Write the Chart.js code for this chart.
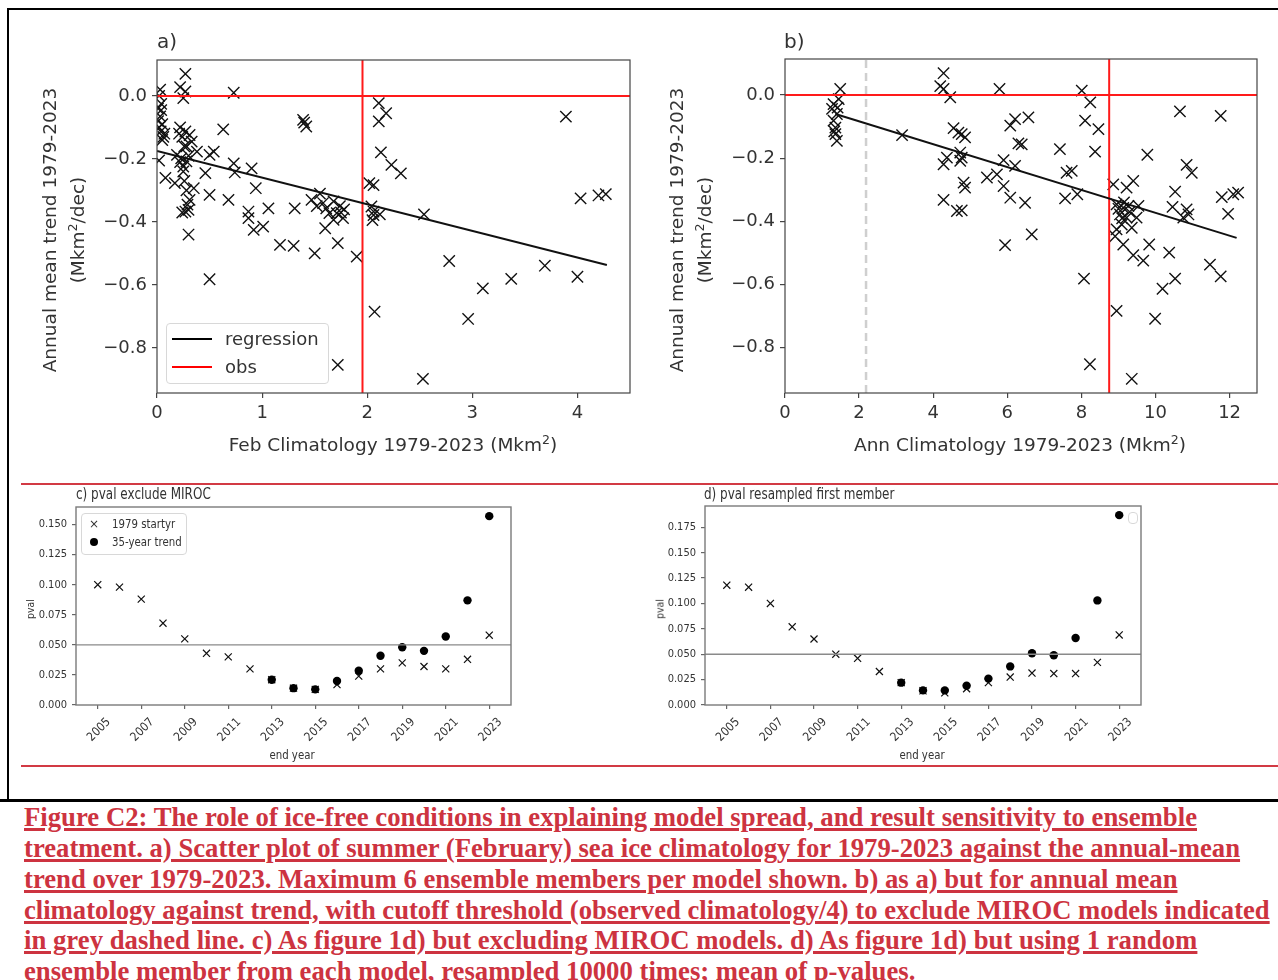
<!DOCTYPE html>
<html>
<head>
<meta charset="utf-8">
<script src="https://cdn.jsdelivr.net/npm/chart.js@4.4.1/dist/chart.umd.min.js"></script>
<style>
body { margin: 0; background: #fff; width: 1278px; height: 980px; position: relative; overflow: hidden; font-family: 'DejaVu Sans', sans-serif; }
.box { position: absolute; }
.t { position: absolute; white-space: nowrap; color: #333; line-height: 1; }
.rule { position: absolute; }
.leg { position: absolute; border: 1px solid #d8d8d8; border-radius: 4px; background: rgba(255,255,255,0.85); }
.cap { position: absolute; left: 24px; white-space: nowrap; font-family: 'Liberation Serif', 'Times New Roman', serif; font-weight: bold; font-size: 27px; line-height: 30px; color: #cd3340; text-decoration: underline; text-decoration-thickness: 2.5px; transform-origin: 0 50%; }
sup { font-size: 0.68em; line-height: 0; }
</style>
</head>
<body>

<!-- frame rules -->
<div class="rule" style="left:7px;top:8px;width:1271px;height:2px;background:#000"></div>
<div class="rule" style="left:7px;top:8px;width:2px;height:792px;background:#000"></div>
<div class="rule" style="left:0;top:799px;width:1278px;height:3px;background:#000"></div>
<div class="rule" style="left:21px;top:483px;width:1257px;height:2px;background:#d23a44"></div>
<div class="rule" style="left:21px;top:765px;width:1257px;height:2px;background:#d23a44"></div>

<canvas id="chartA" class="box" style="left:20px;top:20px" width="625" height="420"></canvas>
<canvas id="chartB" class="box" style="left:650px;top:20px" width="620" height="420"></canvas>
<canvas id="chartC" class="box" style="left:20px;top:488px" width="510" height="277"></canvas>
<canvas id="chartD" class="box" style="left:650px;top:488px" width="510" height="277"></canvas>

<!-- panel a texts -->
<div class="t" style="left:157px;top:41px;font-size:20px;transform:translate(0,-50%)">a)</div>
<div class="t" style="left:50px;top:230px;font-size:18.5px;transform:translate(-50%,-50%) rotate(-90deg)">Annual mean trend 1979-2023</div>
<div class="t" style="left:78px;top:230px;font-size:18.5px;transform:translate(-50%,-50%) rotate(-90deg)">(Mkm<sup>2</sup>/dec)</div>
<div class="t" style="left:393px;top:445px;font-size:18.5px;transform:translate(-50%,-50%)">Feb Climatology 1979-2023 (Mkm<sup>2</sup>)</div>
<div class="leg" style="left:166px;top:323px;width:161px;height:59px"></div>
<div class="rule" style="left:172px;top:338px;width:40px;height:2px;background:#000"></div>
<div class="t" style="left:225px;top:339px;font-size:18px;transform:translate(0,-50%)">regression</div>
<div class="rule" style="left:172px;top:366px;width:40px;height:2px;background:#f00"></div>
<div class="t" style="left:225px;top:367px;font-size:18px;transform:translate(0,-50%)">obs</div>

<!-- panel b texts -->
<div class="t" style="left:784px;top:41px;font-size:20px;transform:translate(0,-50%)">b)</div>
<div class="t" style="left:677px;top:230px;font-size:18.5px;transform:translate(-50%,-50%) rotate(-90deg)">Annual mean trend 1979-2023</div>
<div class="t" style="left:705px;top:230px;font-size:18.5px;transform:translate(-50%,-50%) rotate(-90deg)">(Mkm<sup>2</sup>/dec)</div>
<div class="t" style="left:1020px;top:445px;font-size:18.5px;transform:translate(-50%,-50%)">Ann Climatology 1979-2023 (Mkm<sup>2</sup>)</div>

<!-- panel c texts -->
<div class="t" style="left:76px;top:494px;font-size:15px;transform:translate(0,-50%) scaleX(0.8);transform-origin:0 50%">c) pval exclude MIROC</div>
<div class="t" style="left:30px;top:609px;font-size:11px;transform:translate(-50%,-50%) rotate(-90deg) scaleX(0.85)">pval</div>
<div class="t" style="left:292px;top:755px;font-size:12px;transform:translate(-50%,-50%) scaleX(0.85)">end year</div>
<div class="leg" style="left:81px;top:513px;width:104px;height:40px"></div>
<div class="t" style="left:89px;top:524px;font-size:12px;transform:translate(0,-50%)">×</div>
<div class="t" style="left:112px;top:524px;font-size:12px;transform:translate(0,-50%) scaleX(0.85);transform-origin:0 50%">1979 startyr</div>
<div class="rule" style="left:90px;top:538px;width:8px;height:8px;border-radius:50%;background:#000"></div>
<div class="t" style="left:112px;top:542px;font-size:12px;transform:translate(0,-50%) scaleX(0.85);transform-origin:0 50%">35-year trend</div>

<!-- panel d texts -->
<div class="t" style="left:704px;top:494px;font-size:15px;transform:translate(0,-50%) scaleX(0.8);transform-origin:0 50%">d) pval resampled first member</div>
<div class="t" style="left:660px;top:609px;font-size:11px;transform:translate(-50%,-50%) rotate(-90deg) scaleX(0.85)">pval</div>
<div class="t" style="left:922px;top:755px;font-size:12px;transform:translate(-50%,-50%) scaleX(0.85)">end year</div>
<div class="leg" style="left:1128px;top:512px;width:8px;height:10px"></div>

<!-- caption -->
<div class="cap" data-w="1173" style="top:802px">Figure C2: The role of ice-free conditions in explaining model spread, and result sensitivity to ensemble</div>
<div class="cap" data-w="1216" style="top:833px">treatment. a) Scatter plot of summer (February) sea ice climatology for 1979-2023 against the annual-mean</div>
<div class="cap" data-w="1153" style="top:864px">trend over 1979-2023. Maximum 6 ensemble members per model shown. b) as a) but for annual mean</div>
<div class="cap" data-w="1246" style="top:895px">climatology against trend, with cutoff threshold (observed climatology/4) to exclude MIROC models indicated</div>
<div class="cap" data-w="1173" style="top:925px">in grey dashed line. c) As figure 1d) but excluding MIROC models. d) As figure 1d) but using 1 random</div>
<div class="cap" data-w="891" style="top:956px">ensemble member from each model, resampled 10000 times; mean of p-values.</div>

<script>
// ---- panel a: February climatology vs annual-mean trend ----
const febClim = [0.03, 0.02, 0.04, 0.01, 0.04, 0.03, 0.01, 0.05, 0.02, 0.035, 0.07, 0.06, 0.05, 0.02, 0.08,
    0.27, 0.22, 0.27, 0.25, 0.73, 0.22, 0.27, 0.31, 0.33, 0.28, 0.38, 0.19, 0.23, 0.28, 0.25, 0.17, 0.25, 0.35, 0.31, 0.27, 0.30, 0.30,
    0.24, 0.26, 0.22, 0.26, 0.28, 0.29, 0.24, 0.21, 0.30,
    0.63, 0.54, 0.50, 0.46, 0.50, 0.68, 0.73, 0.74, 0.90, 0.94, 0.87, 0.87, 0.92, 1.01, 1.06, 1.17, 1.30, 1.31, 1.39, 1.42,
    1.40, 1.50, 1.47, 1.55, 1.60, 1.61, 1.68, 1.71, 1.74, 1.77, 1.72, 1.72, 1.90, 0.50, 2.02, 2.06, 2.07,
    1.52, 1.64, 1.68, 1.58, 1.75, 1.78,
    2.11, 2.18, 2.11, 2.13, 2.23, 2.32, 2.06, 2.04, 2.06, 2.12, 2.05, 2.54, 2.53, 2.78, 3.10, 2.96, 3.37, 3.69, 4.00, 3.89,
    4.03, 4.20, 4.27];
const febTrend = [0.02, 0.00, -0.025, -0.04, -0.045, -0.065, -0.08, -0.09, -0.10, -0.113, -0.12, -0.13, -0.14, -0.205, -0.26,
    0.07, 0.028, 0.014, -0.007, 0.01, -0.10, -0.113, -0.124, -0.145, -0.16, -0.177, -0.187, -0.198, -0.208, -0.224, -0.277, -0.24, -0.293, -0.33, -0.367, -0.362, -0.44,
    -0.13, -0.16, -0.21, -0.27, -0.30, -0.345, -0.37, -0.12, -0.19,
    -0.106, -0.177, -0.187, -0.245, -0.314, -0.33, -0.214, -0.243, -0.23, -0.293, -0.367, -0.388, -0.425, -0.415, -0.357, -0.473, -0.476, -0.357, -0.076, -0.097,
    -0.085, -0.50, -0.33, -0.31, -0.42, -0.357, -0.335, -0.372, -0.35, -0.388, -0.467, -0.854, -0.51, -0.582, -0.277, -0.367, -0.685,
    -0.35, -0.372, -0.393, -0.34, -0.37, -0.36,
    -0.023, -0.055, -0.081, -0.179, -0.219, -0.246, -0.283, -0.351, -0.378, -0.376, -0.394, -0.376, -0.898, -0.524, -0.611, -0.708, -0.581, -0.539, -0.574, -0.066,
    -0.325, -0.316, -0.312];
const febRegX = [0, 4.28];
const febRegY = [-0.175, -0.537];
const obsFebClim = 1.955;

// ---- panel b: annual climatology vs annual-mean trend ----
const annClim = [1.49, 1.31, 1.45, 1.27, 1.40, 1.31, 1.36, 1.36, 1.40, 1.33, 1.42, 3.16,
    4.28, 4.19, 4.28, 4.46, 5.79, 4.55, 4.68, 4.77, 4.86, 4.73, 4.77, 4.37, 4.28, 4.73, 4.82, 4.86, 4.28, 4.64, 4.77,
    5.45, 5.72, 5.90, 5.90, 6.08, 6.21, 5.94, 6.08, 6.30, 6.48, 6.21, 6.57, 6.39, 6.66,
    7.42, 7.60, 7.74, 7.56, 7.89, 8.01, 8.24, 8.10, 8.46, 8.37, 8.07, 8.23,
    8.86, 9.22, 9.40, 8.95, 9.13, 9.27, 9.04, 9.22, 9.36, 8.95, 9.09, 9.49, 9.54, 8.91, 9.13, 9.40, 9.67, 9.83, 9.78, 8.95, 9.99, 9.36,
    10.19, 10.37, 10.53, 10.53, 10.46, 10.66, 10.84, 10.98, 10.84, 10.75, 10.89, 11.47, 11.76, 11.79, 11.96, 12.10, 12.23, 11.76,
    9.00, 9.10, 9.30, 9.15];
const annTrend = [0.019, -0.029, -0.013, -0.044, -0.06, -0.081, -0.103, -0.124, -0.145, -0.115, -0.04, -0.127,
    0.069, 0.028, 0.019, -0.007, 0.019, -0.105, -0.119, -0.124, -0.134, -0.182, -0.198, -0.198, -0.219, -0.208, -0.277, -0.293, -0.332, -0.367, -0.365,
    -0.261, -0.251, -0.206, -0.288, -0.325, -0.224, -0.475, -0.097, -0.153, -0.341, -0.076, -0.071, -0.156, -0.441,
    -0.171, -0.246, -0.24, -0.327, -0.314, 0.014, -0.023, -0.081, -0.108, -0.179, -0.581, -0.852,
    -0.283, -0.293, -0.272, -0.346, -0.357, -0.351, -0.378, -0.388, -0.42, -0.425, -0.41, -0.388, -0.351, -0.447, -0.473, -0.507, -0.524, -0.473, -0.189, -0.683, -0.708, -0.898,
    -0.613, -0.499, -0.581, -0.306, -0.354, -0.052, -0.221, -0.246, -0.362, -0.388, -0.378, -0.537, -0.574, -0.323, -0.376, -0.314, -0.309, -0.066,
    -0.36, -0.39, -0.37, -0.34];
const annRegX = [1.36, 12.19];
const annRegY = [-0.06, -0.452];
const obsAnnClim = 8.75;
const mirocCutoff = obsAnnClim / 4;

// ---- panels c, d: p-values by end year ----
const endYears = [2005, 2006, 2007, 2008, 2009, 2010, 2011, 2012, 2013, 2014, 2015, 2016, 2017, 2018, 2019, 2020, 2021, 2022, 2023];
const pvalStartC = [0.100, 0.098, 0.088, 0.068, 0.055, 0.043, 0.040, 0.030, 0.021, 0.014, 0.013, 0.017, 0.024, 0.030, 0.035, 0.032, 0.030, 0.038, 0.058];
const pval35C = [null, null, null, null, null, null, null, null, 0.021, 0.014, 0.013, 0.020, 0.0285, 0.041, 0.048, 0.045, 0.057, 0.087, 0.157];
const pvalStartD = [0.118, 0.116, 0.100, 0.077, 0.065, 0.050, 0.046, 0.033, 0.022, 0.014, 0.012, 0.016, 0.022, 0.0275, 0.0315, 0.031, 0.031, 0.042, 0.069];
const pval35D = [null, null, null, null, null, null, null, null, 0.022, 0.0144, 0.0144, 0.019, 0.026, 0.038, 0.051, 0.049, 0.066, 0.103, 0.187];
const pvalThreshold = 0.05;

// ---- axis ranges and ticks ----
const trendRange = [-0.943, 0.114];
const trendTicks = [0, -0.2, -0.4, -0.6, -0.8];
const febRange = [0, 4.5];
const febTicks = [0, 1, 2, 3, 4];
const annRange = [0, 12.74];
const annTicks = [0, 2, 4, 6, 8, 10, 12];
const yearRange = [2004, 2024];
const yearTicks = [2005, 2007, 2009, 2011, 2013, 2015, 2017, 2019, 2021, 2023];
const pvalRangeC = [0, 0.1646];
const pvalTicksC = [0, 0.025, 0.05, 0.075, 0.1, 0.125, 0.15];
const pvalRangeD = [0, 0.196];
const pvalTicksD = [0, 0.025, 0.05, 0.075, 0.1, 0.125, 0.15, 0.175];

const framePlugin = {
    id: 'frame',
    afterDatasetsDraw(chart, args, opts) {
        const { ctx, chartArea: a } = chart;
        ctx.save();
        ctx.strokeStyle = opts.color;
        ctx.lineWidth = opts.width;
        ctx.strokeRect(a.left, a.top, a.right - a.left, a.bottom - a.top);
        ctx.restore();
    }
};

const pts = (xs, ys) => xs.map((x, i) => ({ x, y: ys[i] }));
const minus = s => s.replace('-', '\u2212');

function makeScale(range, ticks, fmt, font, fitSize, isX, tickExtra) {
    return {
        type: 'linear',
        min: range[0],
        max: range[1],
        afterBuildTicks: s => { s.ticks = ticks.map(v => ({ value: v })); },
        afterFit: s => { if (isX) s.height = fitSize; else s.width = fitSize; },
        grid: { drawOnChartArea: false, drawTicks: true, tickLength: font.tick, color: font.gridColor, lineWidth: 1.2 },
        border: { display: false },
        ticks: Object.assign({ font: { size: font.size, family: font.family }, color: '#333', padding: font.pad, callback: fmt, autoSkip: false, maxRotation: 0 }, tickExtra || {})
    };
}

function lineSet(data, color, width, dash) {
    return { type: 'scatter', data, showLine: true, pointRadius: 0, borderColor: color, borderWidth: width, borderDash: dash || [], fill: false };
}

function scatterSet(data) {
    return { type: 'scatter', data, pointStyle: 'crossRot', pointRadius: 8, borderColor: '#111', borderWidth: 1.4, backgroundColor: 'transparent' };
}

const topFont = { size: 18, family: "'DejaVu Sans', sans-serif", tick: 5, pad: 5, gridColor: '#444' };
const lowFont = { size: 11, family: "'DejaVu Sans Condensed', 'DejaVu Sans', sans-serif", tick: 4, pad: 5, gridColor: '#666' };
const yearFont = Object.assign({}, lowFont, { size: 12, pad: 6 });

function topChart(id, clim, trend, regX, regY, obsX, xRange, xTicks, yWidth, padTop, padRight, extraLines) {
    const datasets = [
        lineSet(pts(regX, regY), '#111', 2),
        lineSet(pts(xRange, [0, 0]), '#ff1a1a', 2),
        lineSet(pts([obsX, obsX], trendRange), '#ff1a1a', 2),
        ...extraLines,
        scatterSet(pts(clim, trend))
    ];
    new Chart(document.getElementById(id), {
        type: 'scatter',
        data: { datasets },
        plugins: [framePlugin],
        options: {
            responsive: false, animation: false, devicePixelRatio: 1,
            layout: { padding: { top: padTop, right: padRight, left: 0, bottom: 0 } },
            plugins: { legend: { display: false }, tooltip: { enabled: false }, frame: { color: '#444', width: 1.2 } },
            scales: {
                x: makeScale(xRange, xTicks, v => String(v), topFont, 47, true),
                y: makeScale(trendRange, trendTicks, v => minus(v.toFixed(1)), topFont, yWidth, false)
            }
        }
    });
}

topChart('chartA', febClim, febTrend, febRegX, febRegY, obsFebClim, febRange, febTicks, 137, 40, 15, []);
topChart('chartB', annClim, annTrend, annRegX, annRegY, obsAnnClim, annRange, annTicks, 135, 39, 13,
    [lineSet(pts([mirocCutoff, mirocCutoff], trendRange), '#cfcfcf', 2.5, [8, 5])]);

function lowChart(id, startVals, trendVals, yRange, yTicks, yWidth, padTop) {
    new Chart(document.getElementById(id), {
        type: 'scatter',
        data: {
            datasets: [
                lineSet(pts(yearRange, [pvalThreshold, pvalThreshold]), '#8a8a8a', 1.3),
                { data: pts(endYears, trendVals), pointStyle: 'circle', pointRadius: 4.2, backgroundColor: '#000', borderColor: '#000', borderWidth: 0 },
                { data: pts(endYears, startVals), pointStyle: 'crossRot', pointRadius: 5, borderColor: '#111', borderWidth: 1.2, backgroundColor: 'transparent' }
            ]
        },
        plugins: [framePlugin],
        options: {
            responsive: false, animation: false, devicePixelRatio: 1,
            layout: { padding: { top: padTop, right: 19, left: 0, bottom: 0 } },
            plugins: { legend: { display: false }, tooltip: { enabled: false }, frame: { color: '#7a7a7a', width: 1.4 } },
            scales: {
                x: makeScale(yearRange, yearTicks, v => String(v), yearFont, 60, true,
                    { minRotation: 45, maxRotation: 45, labelOffset: 11 }),
                y: makeScale(yRange, yTicks, v => v.toFixed(3), lowFont, yWidth, false)
            }
        }
    });
}

lowChart('chartC', pvalStartC, pval35C, pvalRangeC, pvalTicksC, 56, 19);
lowChart('chartD', pvalStartD, pval35D, pvalRangeD, pvalTicksD, 55, 18);

// squeeze each caption line to its measured width
document.querySelectorAll('.cap').forEach(el => {
    const target = +el.dataset.w;
    el.style.transform = 'scaleX(' + (target / el.offsetWidth) + ')';
});
</script>
</body>
</html>
